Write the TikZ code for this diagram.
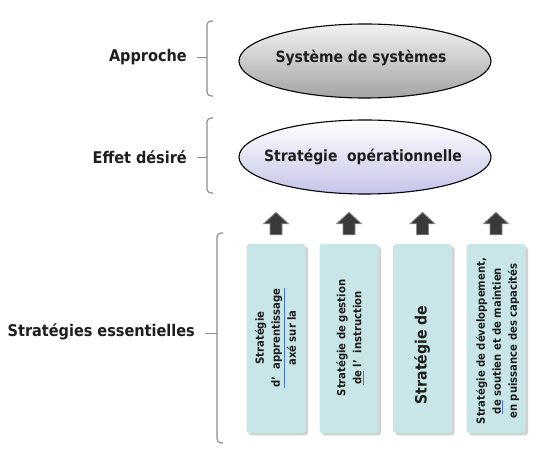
\documentclass[tikz,border=0pt]{standalone}
\usepackage{fontspec}
\setmainfont{DejaVu Sans Condensed}
\usetikzlibrary{shapes.geometric,shadows,calc}
\definecolor{boxfill}{RGB}{200,230,232}
\definecolor{brk}{RGB}{140,140,140}
\definecolor{txt}{RGB}{30,30,30}
\definecolor{ulblue}{RGB}{70,120,210}
\definecolor{arrowfill}{RGB}{58,58,58}
\definecolor{lav}{RGB}{196,196,232}
\newcommand\blueul[1]{{\color{ulblue}\underline{\color{txt}#1}}}
\begin{document}
\begin{tikzpicture}[x=1pt,y=-1pt,
  lbl/.style={font=\fontsize{16.1}{18}\selectfont\bfseries, text=txt, anchor=east, inner sep=0},
  ell/.style={ellipse, draw=black, line width=1.1pt, minimum width=252pt, minimum height=74pt, inner sep=0},
  elltext/.style={font=\fontsize{15.5}{18}\selectfont\bfseries, text=txt, inner sep=0},
  stratbox/.style={rectangle, rounded corners=3pt, fill=boxfill, minimum width=59pt, minimum height=189pt, inner sep=0,
    drop shadow={shadow xshift=2.5pt, shadow yshift=-2.5pt, fill=black!40, opacity=0.45}},
  boxtext/.style={rotate=90, align=center, font=\fontsize{11.2}{16}\selectfont\bfseries, text=txt, inner sep=0},
  brace/.style={draw=brk, line width=1.1pt, rounded corners=4pt},
  tick/.style={draw=brk, line width=0.9pt},
  uparrow/.style={fill=arrowfill, draw=black!45, line width=0.8pt}
]
\useasboundingbox[fill=white] (0,0) rectangle (550,454);

% labels
\node[lbl] (approche) at (187,57) {Approche};
\node[lbl] (effet) at (187,157) {Effet désiré};
\node[lbl] (strat) at (195,332) {Stratégies essentielles};

% brackets
\draw[brace] (213,21) -- (207,21) -- (207,96) -- (213,96);
\coordinate (t1) at (207,57);
\draw[tick] (approche.east) ++(10,0) coordinate (t1s) -- (t1);

\draw[brace] (213,118) -- (207,118) -- (207,193) -- (213,193);
\coordinate (t2) at (207,157);
\draw[tick] (effet.east) ++(10,0) coordinate (t2s) -- (t2);

\draw[brace] (223,233) -- (217,233) -- (217,443) -- (223,443);
\coordinate (t3) at (217,333);
\draw[tick] (205,333) coordinate (t3s) -- (t3);

% ellipses
\node[ell, top color=black!5, bottom color=black!36] (sys) at (365,61) {};
\node[elltext] (syst) at (361,58) {Système de systèmes};
\node[ell, top color=white, bottom color=lav] (ops) at (365,157) {};
\node[elltext] (opst) at (363,157) {Stratégie \ opérationnelle};

% boxes
\node[stratbox] (b1) at (276,338.5) {};
\node[stratbox] (b2) at (349,338.5) {};
\node[stratbox] (b3) at (422.5,338.5) {};
\node[stratbox] (b4) at (496,338.5) {};

\node[boxtext] (x1) at (275.5,338) {Stratégie\\\blueul{d’\ \ apprentissage}\\axé sur la};
\node[boxtext] (x2) at (350,338) {Stratégie de gestion\\\blueul{de} l’\ \ instruction};
\node[boxtext, font=\fontsize{15.6}{18}\selectfont\bfseries] (x3) at (422,355) {Stratégie de};
\node[boxtext] (x4) at (497.5,341) {Stratégie de développement,\\\blueul{de} soutien et de maintien\\en puissance des capacités};

% arrows
\foreach \b in {b1,b2,b3,b4}
  \draw[uparrow] ($(\b.north)+(-6,-9)$) -- ++(0,-11) -- ++(-6.5,0) -- ++(12.5,-11.5) -- ++(12.5,11.5) -- ++(-6.5,0) -- ++(0,11) -- cycle;
\end{tikzpicture}
\end{document}
